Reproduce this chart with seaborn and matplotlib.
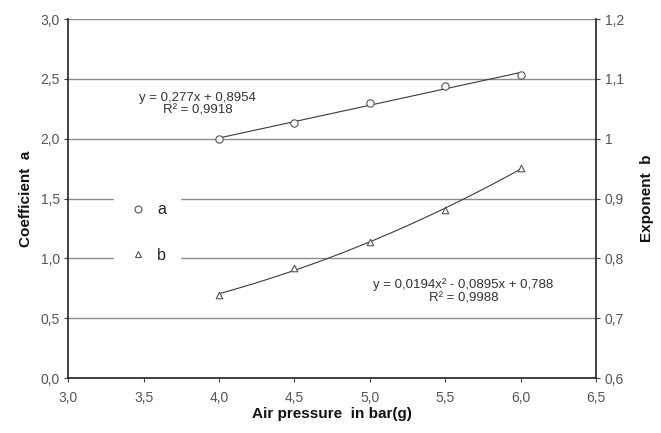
import numpy as np
import pandas as pd
import matplotlib
matplotlib.use("Agg")
import matplotlib.pyplot as plt
from matplotlib.lines import Line2D
from matplotlib.ticker import FuncFormatter, MultipleLocator
import seaborn as sns

# data
pressure = [4.0, 4.5, 5.0, 5.5, 6.0]
coef_a = [2.00, 2.13, 2.30, 2.44, 2.53]
exp_b = [0.739, 0.784, 0.827, 0.881, 0.951]
eq_a = ["y = 0,277x + 0,8954", "R² = 0,9918"]
eq_b = ["y = 0,0194x² - 0,0895x + 0,788", "R² = 0,9988"]

df = pd.DataFrame({"pressure": pressure, "a": coef_a, "b": exp_b})

sns.set_theme(style="white")
plt.rcParams["font.family"] = ["Liberation Sans", "DejaVu Sans"]

fig = plt.figure(figsize=(6.61, 4.33), dpi=100)
ax = fig.add_axes([0.103, 0.127, 0.799, 0.829])
ax2 = ax.twinx()

line_kw = dict(color="#3a3a3a", lw=0.8)
mk_kw = dict(facecolor="white", edgecolor="#555555", linewidth=0.8, zorder=5)

# coefficient a, linear trend
sns.regplot(data=df, x="pressure", y="a", order=1, ci=None, scatter=False,
            truncate=True, line_kws=line_kw, ax=ax)
ax.scatter(df["pressure"], df["a"], marker="o", s=28, **mk_kw)

# exponent b, 2nd order trend
sns.regplot(data=df, x="pressure", y="b", order=2, ci=None, scatter=False,
            truncate=True, line_kws=line_kw, ax=ax2)
ax2.scatter(df["pressure"], df["b"], marker="^", s=22, **mk_kw)

ax.set_xlim(3.0, 6.5)
ax.set_ylim(0.0, 3.0)
ax2.set_ylim(0.6, 1.2)
ax.xaxis.set_major_locator(MultipleLocator(0.5))
ax.yaxis.set_major_locator(MultipleLocator(0.5))
ax2.yaxis.set_major_locator(MultipleLocator(0.1))

comma1 = FuncFormatter(lambda v, p: f"{v:.1f}".replace(".", ","))
ax.xaxis.set_major_formatter(comma1)
ax.yaxis.set_major_formatter(comma1)
ax2.yaxis.set_major_formatter(FuncFormatter(lambda v, p: f"{round(v, 2):g}".replace(".", ",")))

ax.yaxis.grid(True, color="#8c8c8c", lw=1.0)
ax.xaxis.grid(False)
ax.set_axisbelow(True)

for a_ in (ax, ax2):
    for s in a_.spines.values():
        s.set_visible(False)
ax.spines["left"].set_visible(True)
ax.spines["bottom"].set_visible(True)
ax2.spines["right"].set_visible(True)
for s in (ax.spines["left"], ax.spines["bottom"], ax2.spines["right"]):
    s.set_color("#222222")
    s.set_linewidth(1.2)

tick_kw = dict(length=3, width=0.8, color="#444444", labelsize=10,
               labelcolor="#555555", direction="out")
ax.tick_params(axis="x", bottom=True, pad=6, **tick_kw)
ax.tick_params(axis="y", left=True, pad=3, **tick_kw)
ax2.tick_params(axis="y", right=True, pad=3, **tick_kw)

ax.set_xlabel("Air pressure  in bar(g)", fontsize=11, fontweight="bold",
              color="#111111", labelpad=2)
ax.set_ylabel("Coefficient  a", fontsize=11, fontweight="bold",
              color="#111111", labelpad=5)
ax2.set_ylabel("Exponent  b", fontsize=11, fontweight="bold",
               color="#111111", labelpad=12)

ax.text(3.86, 2.29, eq_a[0] + "\n" + eq_a[1], ha="center", va="center",
        fontsize=9.5, color="#333333", linespacing=1.1)
ax2.text(5.62, 0.745, eq_b[0] + "\n" + eq_b[1], ha="center", va="center",
         fontsize=9.5, color="#333333", linespacing=1.1)

handles = [
    Line2D([], [], ls="none", marker="o", ms=5, mfc="white", mec="#555555", mew=0.8),
    Line2D([], [], ls="none", marker="^", ms=5, mfc="white", mec="#555555", mew=0.8),
]
leg = ax2.legend(handles, ["a", "b"], loc="upper left",
                 bbox_to_anchor=(0.072, 0.552), frameon=True, fontsize=11.5,
                 handletextpad=0.6, labelspacing=1.9, borderpad=0.9,
                 handlelength=1.2)
leg.get_frame().set_facecolor("white")
leg.get_frame().set_edgecolor("white")
leg.get_frame().set_alpha(1.0)
for t in leg.get_texts():
    t.set_color("#222222")

fig.savefig("out.png", dpi=100)
